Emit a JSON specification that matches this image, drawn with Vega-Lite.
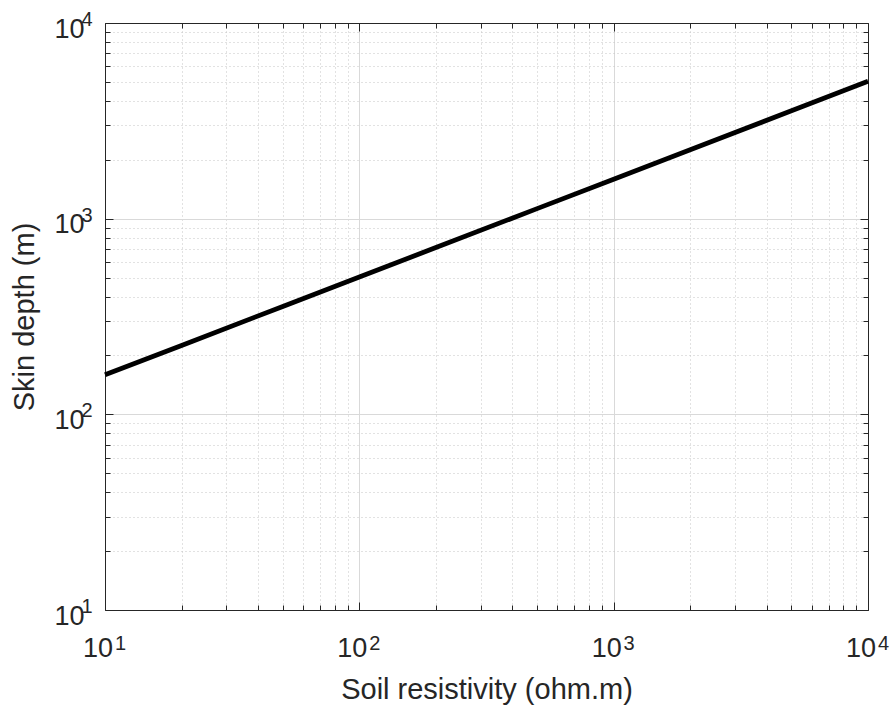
{
  "$schema": "https://vega.github.io/schema/vega-lite/v6.json",
  "width": 763,
  "height": 587,
  "autosize": {"type": "none"},
  "padding": {"left": 105, "top": 23, "right": 25, "bottom": 99},
  "background": "white",
  "config": {
    "view": {"stroke": null},
    "axis": {"labelFont": "Liberation Sans", "titleFont": "Liberation Sans", "labelColor": "#262626", "titleColor": "#262626", "domainColor": "#262626", "tickColor": "#262626", "titleFontWeight": "normal", "labelFlush": false, "labelOverlap": false}
  },
  "data": {"values": [
    {"rho": 10, "depth": 159.2},
    {"rho": 20, "depth": 225.1},
    {"rho": 50, "depth": 355.9},
    {"rho": 100, "depth": 503.3},
    {"rho": 200, "depth": 711.8},
    {"rho": 500, "depth": 1125.4},
    {"rho": 1000, "depth": 1591.6},
    {"rho": 2000, "depth": 2250.9},
    {"rho": 5000, "depth": 3558.9},
    {"rho": 10000, "depth": 5033}
  ]},
  "layer": [
    {
      "mark": {"type": "line", "strokeOpacity": 0},
      "encoding": {
        "x": {"field": "rho", "type": "quantitative", "scale": {"type": "log", "domain": [10, 10000], "nice": false},
          "axis": {"orient": "bottom", "values": [20,30,40,50,60,70,80,90,200,300,400,500,600,700,800,900,2000,3000,4000,5000,6000,7000,8000,9000], "labels": false, "domain": false, "title": null, "grid": true, "gridColor": "#c4c4c4", "gridDash": [1, 3], "gridWidth": 1, "tickSize": -5, "tickWidth": 1}},
        "y": {"field": "depth", "type": "quantitative", "scale": {"type": "log", "domain": [10, 10000], "nice": false},
          "axis": {"orient": "left", "values": [20,30,40,50,60,70,80,90,200,300,400,500,600,700,800,900,2000,3000,4000,5000,6000,7000,8000,9000], "labels": false, "domain": false, "title": null, "grid": true, "gridColor": "#c4c4c4", "gridDash": [1, 3], "gridWidth": 1, "tickSize": -5, "tickWidth": 1}}
      }
    },
    {
      "mark": {"type": "line", "strokeOpacity": 0},
      "encoding": {
        "x": {"field": "rho", "type": "quantitative", "scale": {"type": "log", "domain": [10, 10000], "nice": false},
          "axis": {"orient": "bottom", "values": [10, 100, 1000, 10000], "grid": true, "gridColor": "#d9d9d9", "gridWidth": 1, "tickSize": -8, "tickWidth": 1, "domain": true, "domainWidth": 1,
            "labelExpr": "'10'", "labelFontSize": 27, "labelPadding": 33, "labelOffset": -7.5,
            "title": "Soil resistivity (ohm.m)", "titleFontSize": 29, "titleY": 88, "titleBaseline": "alphabetic"}},
        "y": {"field": "depth", "type": "quantitative", "scale": {"type": "log", "domain": [10, 10000], "nice": false},
          "axis": {"orient": "left", "values": [10, 100, 1000, 10000], "grid": true, "gridColor": "#d9d9d9", "gridWidth": 1, "tickSize": -8, "tickWidth": 1, "domain": true, "domainWidth": 1,
            "labelExpr": "'10'", "labelFontSize": 27, "labelPadding": 29, "labelOffset": 6,
            "title": "Skin depth (m)", "titleFontSize": 29, "titleX": -72, "titleBaseline": "alphabetic"}}
      }
    },
    {
      "mark": {"type": "line", "strokeOpacity": 0},
      "encoding": {
        "x": {"field": "rho", "type": "quantitative", "scale": {"type": "log", "domain": [10, 10000], "nice": false},
          "axis": {"orient": "bottom", "values": [10, 100, 1000, 10000], "grid": false, "ticks": false, "domain": false, "title": null,
            "labelExpr": "format(log(datum.value) / LN10, 'd')", "labelFontSize": 20, "labelPadding": 23, "labelOffset": 15}},
        "y": {"field": "depth", "type": "quantitative", "scale": {"type": "log", "domain": [10, 10000], "nice": false},
          "axis": {"orient": "left", "values": [10, 100, 1000, 10000], "grid": false, "ticks": false, "domain": false, "title": null,
            "labelExpr": "format(log(datum.value) / LN10, 'd')", "labelFontSize": 20, "labelAlign": "left", "labelPadding": 24, "labelOffset": -3.5}}
      }
    },
    {
      "mark": {"type": "line", "strokeOpacity": 0},
      "encoding": {
        "x": {"field": "rho", "type": "quantitative", "scale": {"type": "log", "domain": [10, 10000], "nice": false},
          "axis": {"orient": "top", "values": [20,30,40,50,60,70,80,90,200,300,400,500,600,700,800,900,2000,3000,4000,5000,6000,7000,8000,9000], "labels": false, "domain": false, "title": null, "grid": false, "tickSize": -5, "tickWidth": 1}},
        "y": {"field": "depth", "type": "quantitative", "scale": {"type": "log", "domain": [10, 10000], "nice": false},
          "axis": {"orient": "right", "values": [20,30,40,50,60,70,80,90,200,300,400,500,600,700,800,900,2000,3000,4000,5000,6000,7000,8000,9000], "labels": false, "domain": false, "title": null, "grid": false, "tickSize": -5, "tickWidth": 1}}
      }
    },
    {
      "mark": {"type": "line", "strokeOpacity": 0},
      "encoding": {
        "x": {"field": "rho", "type": "quantitative", "scale": {"type": "log", "domain": [10, 10000], "nice": false},
          "axis": {"orient": "top", "values": [10, 100, 1000, 10000], "labels": false, "domain": true, "domainWidth": 1, "title": null, "grid": false, "tickSize": -8, "tickWidth": 1}},
        "y": {"field": "depth", "type": "quantitative", "scale": {"type": "log", "domain": [10, 10000], "nice": false},
          "axis": {"orient": "right", "values": [10, 100, 1000, 10000], "labels": false, "domain": true, "domainWidth": 1, "title": null, "grid": false, "tickSize": -8, "tickWidth": 1}}
      }
    },
    {
      "mark": {"type": "line", "color": "black", "strokeWidth": 4.8},
      "encoding": {
        "x": {"field": "rho", "type": "quantitative", "scale": {"type": "log", "domain": [10, 10000], "nice": false}, "axis": null},
        "y": {"field": "depth", "type": "quantitative", "scale": {"type": "log", "domain": [10, 10000], "nice": false}, "axis": null}
      }
    }
  ],
  "resolve": {"axis": {"x": "independent", "y": "independent"}}
}
